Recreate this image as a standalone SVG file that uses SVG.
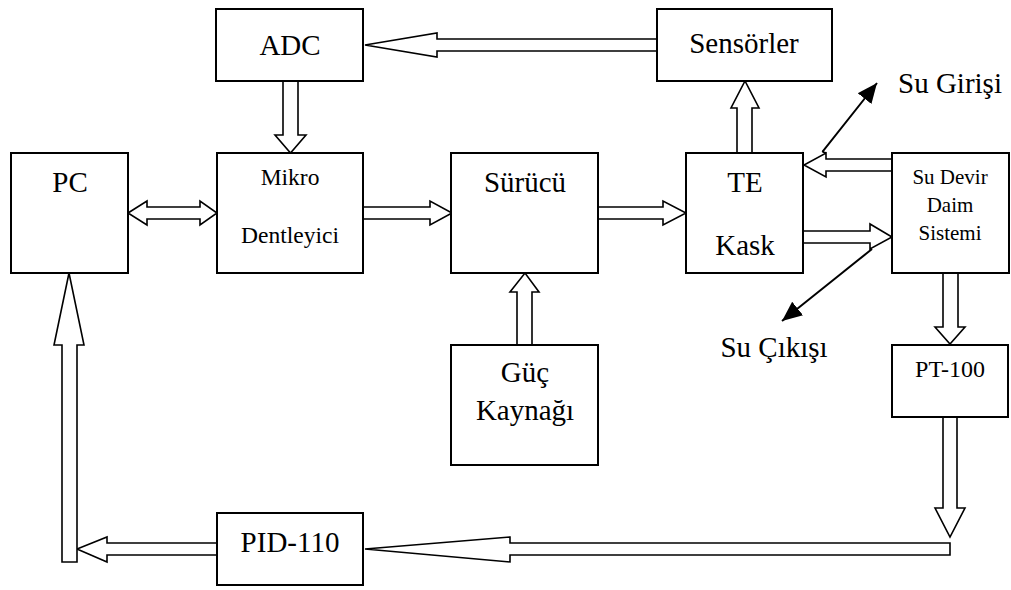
<svg xmlns="http://www.w3.org/2000/svg" width="1011" height="590" viewBox="0 0 1011 590">
<defs>
<marker id="ah" markerUnits="userSpaceOnUse" markerWidth="20" markerHeight="20" refX="16" refY="7" orient="auto" viewBox="0 0 16 14">
<path d="M0,0 L16,7 L0,14 Z" fill="#000"/>
</marker>
</defs>
<g id="connectors" fill="#fff" stroke="#000" stroke-width="1.6">
<polygon points="128,213 147,201 147,207 200,207 200,201 217,213 200,225 200,219 147,219 147,225"/>
<polygon points="363,207 430,207 430,201 452,213 430,225 430,219 363,219"/>
<polygon points="598,207 663,207 663,201 686,213 663,225 663,219 598,219"/>
<polygon points="737,153 737,108 731,108 745,81 759,108 752,108 752,153"/>
<polygon points="657,39 437,39 437,33 365,45 437,57 437,51 657,51"/>
<polygon points="283,81 283,135 275,135 290.5,153 306,135 298,135 298,81"/>
<polygon points="892,159 826,159 826,153 804,165 826,177 826,171 892,171"/>
<polygon points="803,231 870,231 870,224 892,237 870,249 870,243 803,243"/>
<polygon points="943,273 943,327 935,327 950,344 965,327 958,327 958,273"/>
<polygon points="943,417 943,508 935,508 950,537 965,508 957,508 957,417"/>
<polygon points="950,543 510,543 510,537 365,549 510,562 510,555 950,555"/>
<polygon points="217,543 107,543 107,537 77,549 107,562 107,555 217,555"/>
<polygon points="62,562 77,562 77,345 84,345 69,273 54,345 62,345"/>
<polygon points="517,345 517,292 510,292 525,273 539,292 532,292 532,345"/>
<path fill="none" stroke-width="2" d="M826,153 Q822,152 823,151 L877,83" marker-end="url(#ah)"/>
<path fill="none" stroke-width="2" d="M872,249 L782,321" marker-end="url(#ah)"/>
</g>
<g font-family="Liberation Serif" text-anchor="middle" fill="#000">
<g id="adc"><rect fill="#fff" stroke="#000" stroke-width="2" x="216" y="9" width="147" height="72"/><text font-size="29" x="290" y="55">ADC</text></g>
<g id="sensorler"><rect fill="#fff" stroke="#000" stroke-width="2" x="657" y="9" width="175" height="72"/><text font-size="29" x="744" y="53">Sensörler</text></g>
<g id="pc"><rect fill="#fff" stroke="#000" stroke-width="2" x="11" y="153" width="117" height="120"/><text font-size="29" x="70" y="192">PC</text></g>
<g id="mikro"><rect fill="#fff" stroke="#000" stroke-width="2" x="217" y="153" width="146" height="120"/><text font-size="23.5" x="290" y="185">Mikro</text><text font-size="23.5" x="290" y="243">Dentleyici</text></g>
<g id="surucu"><rect fill="#fff" stroke="#000" stroke-width="2" x="451" y="153" width="147" height="120"/><text font-size="29" x="525" y="192">Sürücü</text></g>
<g id="te"><rect fill="#fff" stroke="#000" stroke-width="2" x="686" y="153" width="117" height="120"/><text font-size="29" x="745" y="192">TE</text><text font-size="29" x="745" y="255">Kask</text></g>
<g id="sudevir"><rect fill="#fff" stroke="#000" stroke-width="2" x="892" y="153" width="117" height="120"/><text font-size="21" x="950" y="184">Su Devir</text><text font-size="21" x="950" y="212">Daim</text><text font-size="21" x="950" y="240">Sistemi</text></g>
<g id="guc"><rect fill="#fff" stroke="#000" stroke-width="2" x="451" y="345" width="147" height="120"/><text font-size="29" x="525" y="382">Güç</text><text font-size="29" x="525" y="420">Kaynağı</text></g>
<g id="pt100"><rect fill="#fff" stroke="#000" stroke-width="2" x="892" y="345" width="116" height="72"/><text font-size="24" x="950" y="377">PT-100</text></g>
<g id="pid"><rect fill="#fff" stroke="#000" stroke-width="2" x="217" y="513" width="146" height="72"/><text font-size="29" x="290" y="552">PID-110</text></g>
<g id="sugirisi"><text font-size="29" x="950" y="93">Su Girişi</text></g>
<g id="sucikisi"><text font-size="29" x="774" y="357">Su Çıkışı</text></g>
</g>
</svg>
